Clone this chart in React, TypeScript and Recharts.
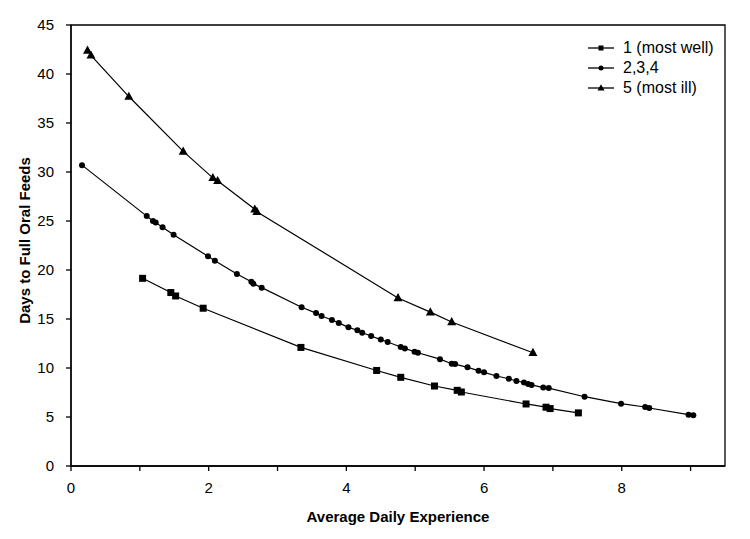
import React from 'react';
import { LineChart, Line, XAxis, YAxis, ReferenceArea, Legend, Label } from 'recharts';

const wellX = [1.04, 1.45, 1.52, 1.92, 3.34, 4.44, 4.79, 5.28, 5.61, 5.67, 6.61, 6.90, 6.96, 7.37];
const wellY = [19.15, 17.7, 17.35, 16.1, 12.1, 9.75, 9.05, 8.16, 7.72, 7.55, 6.33, 6.0, 5.86, 5.42];

const midX = [0.16, 1.10, 1.19, 1.23, 1.33, 1.49, 1.99, 2.09, 2.41, 2.62, 2.65, 2.77, 3.35, 3.56, 3.64, 3.79, 3.89, 4.03, 4.16, 4.23, 4.36, 4.50, 4.60, 4.79, 4.85, 4.99, 5.04, 5.36, 5.53, 5.58, 5.76, 5.92, 6.00, 6.18, 6.36, 6.47, 6.58, 6.64, 6.69, 6.86, 6.94, 7.46, 7.99, 8.34, 8.40, 8.97, 9.04];
const midY = [30.7, 25.5, 25.0, 24.85, 24.35, 23.6, 21.4, 20.95, 19.6, 18.8, 18.6, 18.2, 16.2, 15.6, 15.3, 14.9, 14.6, 14.15, 13.85, 13.6, 13.27, 12.9, 12.65, 12.14, 12.0, 11.66, 11.56, 10.9, 10.44, 10.4, 10.07, 9.73, 9.56, 9.18, 8.9, 8.67, 8.53, 8.37, 8.27, 8.0, 7.95, 7.07, 6.36, 6.02, 5.92, 5.24, 5.17];

const illX = [0.24, 0.29, 0.84, 1.63, 2.06, 2.13, 2.67, 2.70, 4.75, 5.22, 5.53, 6.71];
const illY = [42.4, 41.9, 37.7, 32.1, 29.4, 29.1, 26.2, 25.95, 17.15, 15.7, 14.7, 11.56];

const seriesNames = ['1 (most well)', '2,3,4', '5 (most ill)'];
const xTicks = [0, 1, 2, 3, 4, 5, 6, 7, 8, 9];
const yTicks = [0, 5, 10, 15, 20, 25, 30, 35, 40, 45];

const toPoints = (xs: number[], ys: number[]) => xs.map((x, i) => ({ x, y: ys[i] }));
const wellData = toPoints(wellX, wellY);
const midData = toPoints(midX, midY);
const illData = toPoints(illX, illY);

const FONT = '"Liberation Sans", Arial, sans-serif';

type Shape = 'square' | 'circle' | 'triangle';

const marker = (shape: Shape, cx: number, cy: number, s: number, key?: any) => {
  if (shape === 'square') {
    return <rect key={key} x={cx - s / 2} y={cy - s / 2} width={s} height={s} fill="#000" />;
  }
  if (shape === 'circle') {
    return <circle key={key} cx={cx} cy={cy} r={s / 2} fill="#000" />;
  }
  const h = s * 0.9;
  return (
    <polygon
      key={key}
      points={`${cx},${cy - h * 0.6} ${cx - s / 2},${cy + h * 0.4} ${cx + s / 2},${cy + h * 0.4}`}
      fill="#000"
    />
  );
};

const makeDot = (shape: Shape, size: number) => (props: any) => {
  const { cx, cy, index } = props;
  if (cx == null || cy == null) return <g key={`d-${index}`} />;
  return marker(shape, cx, cy, size, `d-${shape}-${index}`);
};

const shapes: Shape[] = ['square', 'circle', 'triangle'];

const LegendContent = () => (
  <div style={{ fontFamily: FONT, fontSize: 16, color: '#000' }}>
    {seriesNames.map((name, i) => (
      <div key={name} style={{ display: 'flex', alignItems: 'center', height: 20 }}>
        <svg width={26} height={20} style={{ marginRight: 9 }}>
          <line x1={0} y1={10} x2={26} y2={10} stroke="#000" strokeWidth={1.3} />
          {marker(shapes[i], 13, 10, shapes[i] === 'triangle' ? 7 : 5)}
        </svg>
        <span>{name}</span>
      </div>
    ))}
  </div>
);

const XTitle = (props: any) => {
  const vb = props.viewBox || {};
  return (
    <text
      x={vb.x + vb.width / 2}
      y={vb.y + 56}
      textAnchor="middle"
      fontFamily={FONT}
      fontSize={15}
      fontWeight="bold"
      fill="#000"
    >
      Average Daily Experience
    </text>
  );
};

const YTitle = (props: any) => {
  const vb = props.viewBox || {};
  const x = 22;
  const y = vb.y + vb.height / 2 - 5;
  return (
    <text
      x={x}
      y={y}
      transform={`rotate(-90, ${x}, ${y})`}
      textAnchor="middle"
      fontFamily={FONT}
      fontSize={15}
      fontWeight="bold"
      fill="#000"
    >
      Days to Full Oral Feeds
    </text>
  );
};

export default function App() {
  return (
    <div style={{ width: 742, height: 531, position: 'relative', background: '#fff' }}>
      <LineChart
        width={742}
        height={531}
        margin={{ top: 17, right: 25, left: 0, bottom: 13 }}
        style={{ background: '#fff' }}
      >
        <XAxis
          type="number"
          dataKey="x"
          domain={[0, 9.5]}
          ticks={xTicks}
          allowDataOverflow
          interval={0}
          tickFormatter={(v: number) => (v % 2 === 0 ? String(v) : '')}
          tickSize={5}
          tickMargin={11}
          height={60}
          axisLine={{ stroke: '#000', strokeWidth: 1.3 }}
          tickLine={{ stroke: '#000', strokeWidth: 1.3 }}
          tick={{ fill: '#000', fontSize: 15, fontFamily: FONT }}
        >
          <Label content={XTitle} />
        </XAxis>
        <YAxis
          type="number"
          domain={[0, 45]}
          ticks={yTicks}
          interval={0}
          width={63}
          tickSize={5}
          tickMargin={12}
          axisLine={{ stroke: '#000', strokeWidth: 1.3 }}
          tickLine={{ stroke: '#000', strokeWidth: 1.3 }}
          tick={{ fill: '#000', fontSize: 15, fontFamily: FONT }}
        >
          <Label content={YTitle} />
        </YAxis>
        <ReferenceArea x1={0} x2={9.5} y1={0} y2={45} fill="none" stroke="#000" strokeWidth={1.3} ifOverflow="visible" />
        <Line
          data={wellData}
          dataKey="y"
          name={seriesNames[0]}
          type="linear"
          stroke="#000"
          strokeWidth={1.2}
          dot={makeDot('square', 7)}
          activeDot={false}
          isAnimationActive={false}
        />
        <Line
          data={midData}
          dataKey="y"
          name={seriesNames[1]}
          type="linear"
          stroke="#000"
          strokeWidth={1.2}
          dot={makeDot('circle', 6)}
          activeDot={false}
          isAnimationActive={false}
        />
        <Line
          data={illData}
          dataKey="y"
          name={seriesNames[2]}
          type="linear"
          stroke="#000"
          strokeWidth={1.2}
          dot={makeDot('triangle', 9)}
          activeDot={false}
          isAnimationActive={false}
        />
        <Legend
          layout="vertical"
          align="center"
          verticalAlign="middle"
          content={LegendContent}
          wrapperStyle={{ left: 580, top: 30, width: 160 }}
        />
      </LineChart>
    </div>
  );
}
